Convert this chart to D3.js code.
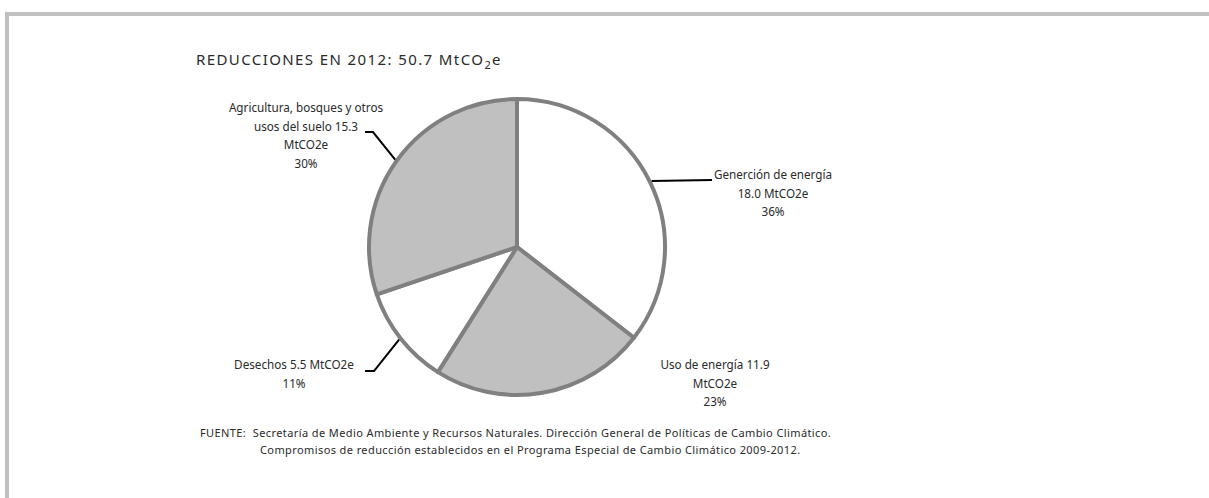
<!DOCTYPE html>
<html>
<head>
<meta charset="utf-8">
<script src="https://cdn.jsdelivr.net/npm/d3@7"></script>
<style>
  body { margin: 0; background: #fff; }
  text { font-family: "Noto Sans", sans-serif; fill: #2a2a2a; }
</style>
</head>
<body>
<div id="chart"></div>
<script>
// data
var categories = ["Generción de energía", "Uso de energía", "Desechos", "Agricultura, bosques y otros usos del suelo"];
var values = [18.0, 11.9, 5.5, 15.3];
var percents = ["36%", "23%", "11%", "30%"];
var labelLines = [
  ["Generción de energía", "18.0 MtCO2e", "36%"],
  ["Uso de energía 11.9", "MtCO2e", "23%"],
  ["Desechos 5.5 MtCO2e", "11%"],
  ["Agricultura, bosques y otros", "usos del suelo 15.3", "MtCO2e", "30%"]
];
var fills = ["#ffffff", "#c0c0c0", "#ffffff", "#c0c0c0"];
var sourceLines = [
  "FUENTE:  Secretaría de Medio Ambiente y Recursos Naturales. Dirección General de Políticas de Cambio Climático.",
  "Compromisos de reducción establecidos en el Programa Especial de Cambio Climático 2009-2012."
];

var width = 1209, height = 498;
var cx = 517, cy = 247, radius = 148;

// where each label block sits, and the leader elbow/end (null = no leader)
var labelPos = [
  { x: 773, y: 179, leader: [[712, 180]] },
  { x: 715, y: 369, leader: null },
  { x: 294, y: 369, leader: [[374, 371], [365, 371]] },
  { x: 306, y: 112, leader: [[373, 132], [365, 132]] }
];

var svg = d3.select("#chart").append("svg")
  .attr("width", width)
  .attr("height", height);

// frame (top and left only)
svg.append("line")
  .attr("x1", 5).attr("x2", width).attr("y1", 14).attr("y2", 14)
  .style("stroke", "#c0c0c0").style("stroke-width", 4);
svg.append("line")
  .attr("x1", 7).attr("x2", 7).attr("y1", 12).attr("y2", height)
  .style("stroke", "#c0c0c0").style("stroke-width", 4);

// title with subscript
var title = svg.append("text")
  .attr("x", 196)
  .attr("y", 65)
  .style("font-size", "15px")
  .style("letter-spacing", "1.4px");
title.append("tspan").text("REDUCCIONES EN 2012: 50.7 MtCO");
title.append("tspan").attr("dy", 4).style("font-size", "11px").text("2");
title.append("tspan").attr("dy", -4).text("e");

var pie = d3.pie().sort(null).value(function (d) { return d; });
var arcs = pie(values);
var arc = d3.arc().innerRadius(0).outerRadius(radius);
var edge = d3.arc().innerRadius(radius + 2).outerRadius(radius + 2);

var g = svg.append("g").attr("transform", "translate(" + cx + "," + cy + ")");
g.selectAll("path")
  .data(arcs)
  .enter()
  .append("path")
  .attr("d", arc)
  .style("fill", function (d, i) { return fills[i]; })
  .style("stroke", "#808080")
  .style("stroke-width", 4)
  .style("stroke-linejoin", "round");

// leader lines
arcs.forEach(function (d, i) {
  var p = labelPos[i];
  if (!p.leader) return;
  var c = edge.centroid(d);
  var pts = [[cx + c[0], cy + c[1]]].concat(p.leader);
  svg.append("path")
    .attr("d", d3.line()(pts))
    .style("fill", "none")
    .style("stroke", "#000")
    .style("stroke-width", 2);
});

// labels
labelLines.forEach(function (lines, i) {
  var p = labelPos[i];
  var t = svg.append("text")
    .attr("text-anchor", "middle")
    .style("font-size", "11.7px");
  lines.forEach(function (s, j) {
    t.append("tspan")
      .attr("x", p.x)
      .attr("y", p.y + j * 18.5)
      .text(s);
  });
});

// source note
svg.append("text")
  .attr("x", 200).attr("y", 437)
  .style("font-size", "11px")
  .style("letter-spacing", "0.4px")
  .style("white-space", "pre")
  .text(sourceLines[0]);
svg.append("text")
  .attr("x", 260).attr("y", 454)
  .style("font-size", "11px")
  .style("letter-spacing", "0.4px")
  .text(sourceLines[1]);
</script>
</body>
</html>
